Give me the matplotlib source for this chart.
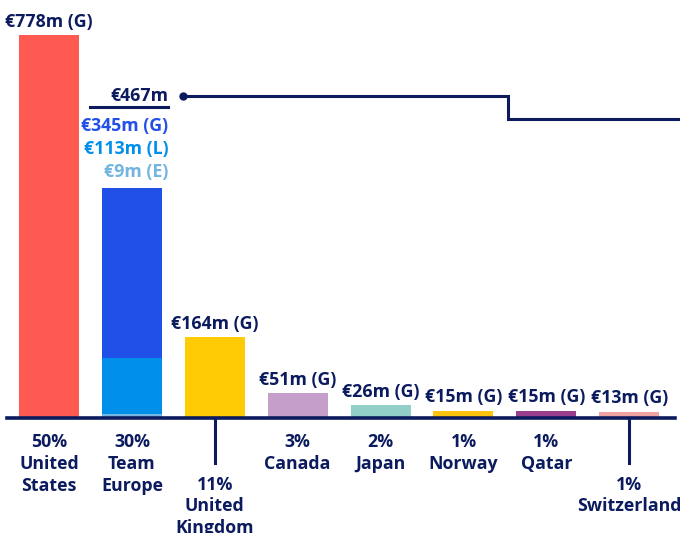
import matplotlib.pyplot as plt

plt.rcParams['font.family'] = ['Open Sans', 'DejaVu Sans']

# data
countries = ["United\nStates", "Team\nEurope", "United\nKingdom", "Canada",
             "Japan", "Norway", "Qatar", "Switzerland"]
shares = ["50%", "30%", "11%", "3%", "2%", "1%", "1%", "1%"]
grants = [778, 345, 164, 51, 26, 15, 15, 13]
loans = [0, 113, 0, 0, 0, 0, 0, 0]
equity = [0, 9, 0, 0, 0, 0, 0, 0]
bar_colors = ["#ff5a52", "#2150e8", "#ffcb05", "#c59ec9",
              "#93cfc9", "#ffc20e", "#9a3e8e", "#f0a3a3"]
dropped = [2, 7]   # labels pushed down with a leader line

navy = "#0b1b5e"
c_g, c_l, c_e = "#2150e8", "#0090ec", "#73b4e0"

fig = plt.figure(figsize=(6.8, 5.33), dpi=100)
ax = fig.add_axes([0, 0, 1, 1])
ax.set_xlim(-0.591, 7.612)
ax.set_ylim(-233.6, 849.1)
ax.axis("off")

x = list(range(len(countries)))
w = 0.724
# team europe stacked: equity bottom, loans, grants on top
ax.bar(x, equity, w, color=c_e, zorder=2)
ax.bar(x, loans, w, bottom=equity, color=c_l, zorder=2)
bottoms = [e + l for e, l in zip(equity, loans)]
ax.bar(x, grants, w, bottom=bottoms, color=bar_colors, zorder=2)

ax.axhline(0, xmin=7 / 680, xmax=675 / 680, color=navy, lw=2.6, zorder=3)

fs = 12.8
ls = 1.27
for i in x:
    total = grants[i] + loans[i] + equity[i]
    if loans[i] == 0:
        ax.annotate(f"€{grants[i]}m (G)", (i, total), xytext=(0, 3),
                    textcoords="offset points", ha="center", va="bottom",
                    fontsize=fs, fontweight="bold", color=navy)
    if i in dropped:
        ax.plot([i, i], [0, -92], color=navy, lw=2.2, zorder=3)
        ax.text(i, -117, f"{shares[i]}\n{countries[i]}", ha="center", va="top",
                fontsize=fs, fontweight="bold", color=navy, linespacing=ls)
    else:
        ax.text(i, -31, f"{shares[i]}\n{countries[i]}", ha="center", va="top",
                fontsize=fs, fontweight="bold", color=navy, linespacing=ls)

# team europe breakdown labels
te = 1
te_total = grants[te] + loans[te] + equity[te]
rx = te + 0.44
y0 = te_total + 188
ax.text(rx, y0, f"€{te_total}m", ha="right", va="center", fontsize=fs,
        fontweight="bold", color=navy)
ax.plot([te - 0.5, rx], [y0 - 24, y0 - 24], color=navy, lw=2.2)
ax.text(rx, y0 - 61, f"€{grants[te]}m (G)", ha="right", va="center",
        fontsize=fs, fontweight="bold", color=c_g)
ax.text(rx, y0 - 108, f"€{loans[te]}m (L)", ha="right", va="center",
        fontsize=fs, fontweight="bold", color=c_l)
ax.text(rx, y0 - 155, f"€{equity[te]}m (E)", ha="right", va="center",
        fontsize=fs, fontweight="bold", color=c_e)

# step connector
ax.plot([rx + 0.18], [y0], "o", color=navy, ms=5)
ax.plot([rx + 0.18, 5.54, 5.54, 7.7], [y0, y0, y0 - 47, y0 - 47],
        color=navy, lw=2.2, solid_joinstyle="miter")

fig.savefig("out.png", dpi=100)
